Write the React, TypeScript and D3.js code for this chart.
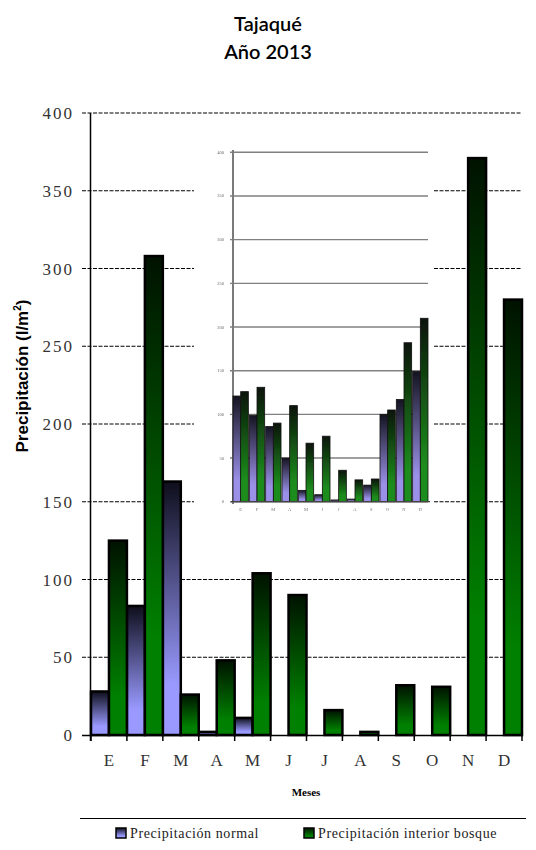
import React, { useEffect, useRef } from 'react';
import * as d3 from 'd3';

const months = ['E', 'F', 'M', 'A', 'M', 'J', 'J', 'A', 'S', 'O', 'N', 'D'];
const normal = [28, 83, 163, 2, 11, 0, 0, 0, 0, 0, 0, 0];
const interior = [125, 308, 26, 48, 104, 90, 16, 2, 32, 31, 371, 280];
const yTicks = [0, 50, 100, 150, 200, 250, 300, 350, 400];

// the small pasted chart in the middle (blurry image in the original)
const insetNormal = [121, 99, 86, 50, 13, 8, 2, 3, 19, 100, 117, 149];
const insetInterior = [126, 131, 90, 110, 67, 75, 36, 25, 26, 105, 182, 210];
const insetTicks = [0, 50, 100, 150, 200, 250, 300, 350, 400];

export default function App() {
  const svgRef = useRef<SVGSVGElement>(null);

  useEffect(() => {
    if (!svgRef.current) return;
    const width = 536;
    const height = 850;
    const svg = d3.select(svgRef.current);
    svg.selectAll('*').remove();
    svg.attr('width', width).attr('height', height);

    const defs = svg.append('defs');
    const grad = (id: string, top: string, bottom: string) => {
      const g = defs.append('linearGradient').attr('id', id)
        .attr('x1', 0).attr('y1', 0).attr('x2', 0).attr('y2', 1);
      g.append('stop').attr('offset', 0).attr('stop-color', top);
      g.append('stop').attr('offset', 0.8).attr('stop-color', bottom);
      g.append('stop').attr('offset', 1).attr('stop-color', bottom);
    };
    grad('gBlue', '#0e0e1c', '#9999ff');
    grad('gGreen', '#001200', '#008000');
    grad('iBlue', '#141420', '#9a90e8');
    grad('iGreen', '#0a140a', '#1c8c1c');
    defs.append('filter').attr('id', 'blur')
      .append('feGaussianBlur').attr('stdDeviation', 0.7);

    const serif = '"Liberation Serif", "DejaVu Serif", serif';

    const x = d3.scaleBand<number>().domain(d3.range(12)).range([91, 522]).padding(0);
    const y = d3.scaleLinear().domain([0, 400]).range([735, 113]);
    const bw = x.bandwidth();

    // title
    svg.append('text').attr('x', 268).attr('y', 31).attr('text-anchor', 'middle')
      .attr('font-family', 'Lato, sans-serif').attr('font-weight', 600)
      .attr('font-size', 20).text('Tajaqué');
    svg.append('text').attr('x', 268).attr('y', 59).attr('text-anchor', 'middle')
      .attr('font-family', 'Lato, sans-serif').attr('font-weight', 600)
      .attr('font-size', 20).text('Año 2013');

    // grid lines
    svg.append('g').selectAll('line').data(yTicks.filter(d => d > 0)).enter()
      .append('line')
      .attr('x1', 82).attr('x2', 522)
      .attr('y1', d => y(d)).attr('y2', d => y(d))
      .attr('stroke', '#000').attr('stroke-width', 1)
      .attr('stroke-dasharray', '4,1.5');

    // inset chart (pasted picture)
    const inset = svg.append('g').attr('filter', 'url(#blur)');
    inset.append('rect').attr('x', 194).attr('y', 132).attr('width', 239).attr('height', 386)
      .attr('fill', '#fff');
    const ix = d3.scaleBand<number>().domain(d3.range(12)).range([233, 428]).paddingInner(0.06);
    const iy = d3.scaleLinear().domain([0, 400]).range([501.7, 152.3]);
    inset.append('g').selectAll('line').data(insetTicks).enter().append('line')
      .attr('x1', 230).attr('x2', 428)
      .attr('y1', d => iy(d)).attr('y2', d => iy(d))
      .attr('stroke', '#808080').attr('stroke-width', 1.4);
    inset.append('line').attr('x1', 233).attr('x2', 233).attr('y1', 150).attr('y2', 504)
      .attr('stroke', '#7a7a7a').attr('stroke-width', 2);
    inset.append('g').selectAll('text').data(insetTicks).enter().append('text')
      .attr('x', 224).attr('y', d => iy(d) + 1.5).attr('text-anchor', 'end')
      .attr('font-family', serif).attr('font-size', 4.5).attr('fill', '#666')
      .text(d => d);
    const ibw = ix.bandwidth();
    inset.append('g').selectAll('rect').data(insetNormal).enter().append('rect')
      .attr('x', (d, i) => ix(i)!).attr('width', ibw / 2)
      .attr('y', d => iy(d)).attr('height', d => iy(0) - iy(d))
      .attr('fill', 'url(#iBlue)').attr('stroke', '#111').attr('stroke-width', 0.8);
    inset.append('g').selectAll('rect').data(insetInterior).enter().append('rect')
      .attr('x', (d, i) => ix(i)! + ibw / 2).attr('width', ibw / 2)
      .attr('y', d => iy(d)).attr('height', d => iy(0) - iy(d))
      .attr('fill', 'url(#iGreen)').attr('stroke', '#111').attr('stroke-width', 0.8);
    inset.append('line').attr('x1', 231).attr('x2', 430).attr('y1', iy(0)).attr('y2', iy(0))
      .attr('stroke', '#444').attr('stroke-width', 1.2);
    inset.append('g').selectAll('text').data(months).enter().append('text')
      .attr('x', (d, i) => ix(i)! + ibw / 2).attr('y', 511).attr('text-anchor', 'middle')
      .attr('font-family', serif).attr('font-size', 4.5).attr('fill', '#777')
      .text(d => d);

    // bars
    const blueData = normal.map((v, i) => ({ v, i })).filter(d => d.v > 0);
    svg.append('g').selectAll('rect').data(blueData).enter()
      .append('rect')
      .attr('x', d => x(d.i)!)
      .attr('width', bw / 2)
      .attr('y', d => y(d.v)).attr('height', d => y(0) - y(d.v))
      .attr('fill', 'url(#gBlue)').attr('stroke', '#000').attr('stroke-width', 2.5);
    svg.append('g').selectAll('rect').data(interior).enter()
      .append('rect')
      .attr('x', (d, i) => x(i)! + bw / 2)
      .attr('width', bw / 2)
      .attr('y', d => y(d)).attr('height', d => y(0) - y(d))
      .attr('fill', 'url(#gGreen)').attr('stroke', '#000').attr('stroke-width', 2.5);

    // axes
    svg.append('line').attr('x1', 90.5).attr('x2', 90.5).attr('y1', 113).attr('y2', 741)
      .attr('stroke', '#000').attr('stroke-width', 1.5);
    svg.append('line').attr('x1', 82).attr('x2', 523).attr('y1', 735.5).attr('y2', 735.5)
      .attr('stroke', '#000').attr('stroke-width', 1.5);
    svg.append('g').selectAll('line').data(d3.range(13)).enter().append('line')
      .attr('x1', d => 91 + d * bw).attr('x2', d => 91 + d * bw)
      .attr('y1', 735).attr('y2', 741)
      .attr('stroke', '#000').attr('stroke-width', 1.5);

    svg.append('g').selectAll('text').data(yTicks).enter().append('text')
      .attr('x', 74).attr('y', d => y(d) + 6).attr('text-anchor', 'end')
      .attr('font-family', serif).attr('font-size', 17).attr('letter-spacing', 2)
      .attr('fill', '#333').text(d => d);

    svg.append('g').selectAll('text').data(months).enter().append('text')
      .attr('x', (d, i) => x(i)! + bw / 2).attr('y', 766).attr('text-anchor', 'middle')
      .attr('font-family', serif).attr('font-size', 17).attr('fill', '#333')
      .text(d => d);

    svg.append('text').attr('x', 306).attr('y', 796).attr('text-anchor', 'middle')
      .attr('font-family', serif).attr('font-weight', 'bold').attr('font-size', 11)
      .text('Meses');

    const yt = svg.append('text')
      .attr('transform', 'translate(28, 376) rotate(-90)')
      .attr('text-anchor', 'middle')
      .attr('font-family', '"Liberation Sans Narrow", "Liberation Sans", sans-serif')
      .attr('font-weight', 'bold').attr('font-size', 17);
    yt.append('tspan').text('Precipitación (l/m');
    yt.append('tspan').attr('font-size', 10).attr('dy', -7).text('2');
    yt.append('tspan').attr('dy', 7).text(')');

    // legend
    svg.append('line').attr('x1', 80).attr('x2', 526).attr('y1', 818.5).attr('y2', 818.5)
      .attr('stroke', '#000').attr('stroke-width', 1);
    const legend = [
      { label: 'Precipitación normal', fill: 'url(#gBlue)', x: 116 },
      { label: 'Precipitación interior bosque', fill: 'url(#gGreen)', x: 304 },
    ];
    const lg = svg.append('g').selectAll('g').data(legend).enter().append('g');
    lg.append('rect').attr('x', d => d.x).attr('y', 828).attr('width', 10).attr('height', 10)
      .attr('fill', d => d.fill).attr('stroke', '#000').attr('stroke-width', 1.5);
    lg.append('text').attr('x', d => d.x + 14).attr('y', 838)
      .attr('font-family', serif).attr('font-size', 14).attr('letter-spacing', 0.6)
      .attr('fill', '#222').text(d => d.label);
  }, []);

  return <svg ref={svgRef} style={{ position: 'absolute', left: 0, top: 0 }}></svg>;
}
